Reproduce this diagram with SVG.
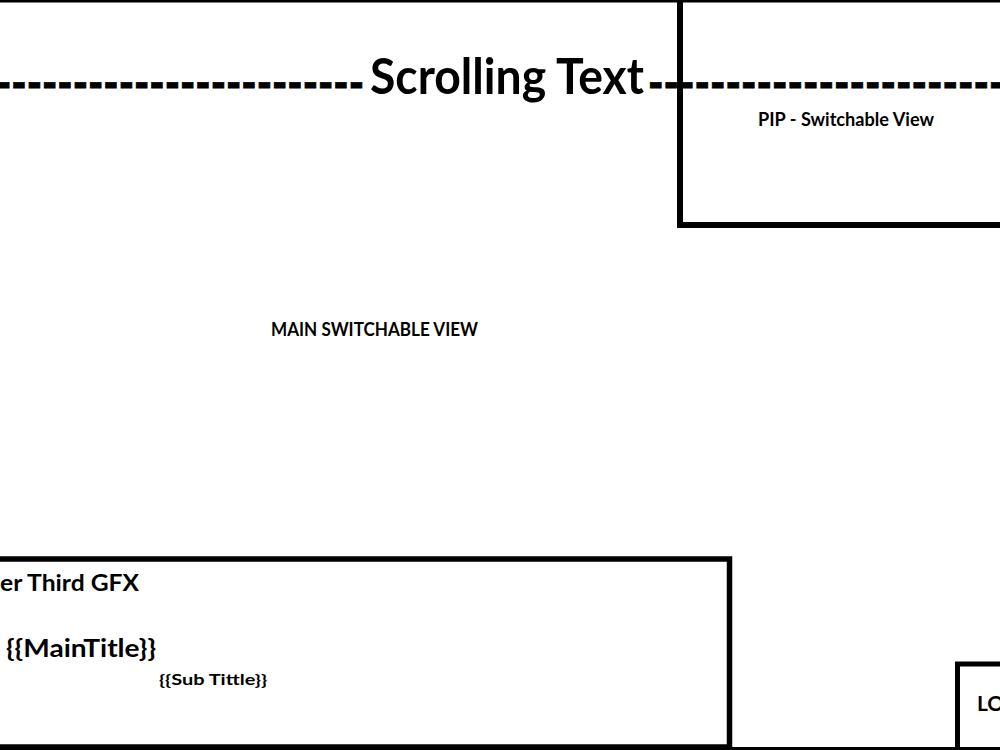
<svg xmlns="http://www.w3.org/2000/svg" width="1000" height="750" viewBox="0 0 1000 750">
<style>
.box{fill:none;stroke:#000;}
.lbl{font-family:Lato,"Open Sans","Liberation Sans",sans-serif;font-weight:bold;fill:#000;}
.dash{font-weight:900;stroke:#000;stroke-width:0.9;}
</style>
<rect x="0" y="0" width="1000" height="750" fill="#fff"/>
<g id="frame">
<rect x="0" y="0" width="1000" height="2.5" fill="#000"/>
<rect x="0" y="747" width="1000" height="3" fill="#000"/>
</g>
<g id="scrolling-text">
<text class="lbl" y="94" font-size="50">
<tspan class="dash" x="-4" y="99.5" textLength="368" lengthAdjust="spacingAndGlyphs">------------------------</tspan><tspan x="370" y="94" textLength="274" lengthAdjust="spacingAndGlyphs">Scrolling Text</tspan><tspan class="dash" x="648" y="99.5" textLength="372" lengthAdjust="spacingAndGlyphs">------------------------</tspan>
</text>
</g>
<g id="pip">
<rect class="box" x="680" y="-5" width="340" height="230" stroke-width="6"/>
<text class="lbl" x="758" y="126" font-size="18" textLength="176" lengthAdjust="spacingAndGlyphs">PIP - Switchable View</text>
</g>
<g id="main-view">
<text class="lbl" x="271" y="336" font-size="18" textLength="207" lengthAdjust="spacingAndGlyphs">MAIN SWITCHABLE VIEW</text>
</g>
<g id="lower-third">
<rect class="box" x="-10" y="559" width="739.5" height="188" stroke-width="5.5"/>
<text class="lbl" x="0" y="591" font-size="23" textLength="139" lengthAdjust="spacingAndGlyphs">er Third GFX</text>
<text class="lbl" x="6" y="657" font-size="24" textLength="150" lengthAdjust="spacingAndGlyphs">{{MainTitle}}</text>
<text class="lbl" x="159" y="685" font-size="16" textLength="108" lengthAdjust="spacingAndGlyphs">{{Sub Tittle}}</text>
</g>
<g id="logo">
<rect class="box" x="957.5" y="664" width="60" height="90" stroke-width="5"/>
<text class="lbl" x="977" y="711" font-size="21">LO</text>
</g>
</svg>
